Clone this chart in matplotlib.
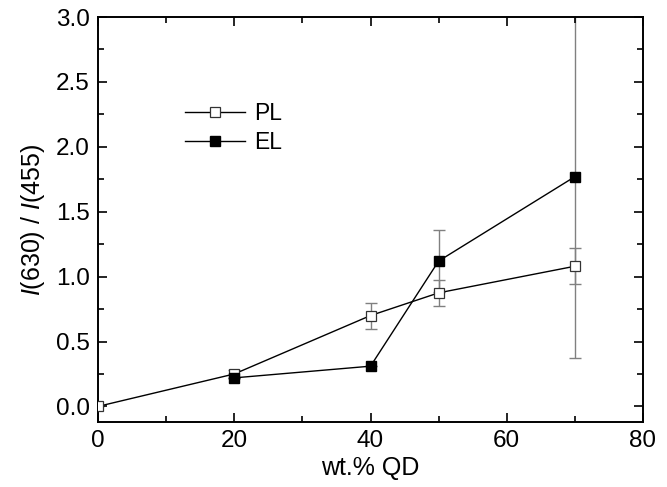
import matplotlib
matplotlib.use("Agg")
import matplotlib.pyplot as plt
from matplotlib.ticker import MultipleLocator

plt.rcParams["font.family"] = ["Liberation Sans", "DejaVu Sans"]
plt.rcParams["mathtext.fontset"] = "custom"
plt.rcParams["mathtext.rm"] = "Liberation Sans"
plt.rcParams["mathtext.it"] = "Liberation Sans:italic"

# PL: photoluminescence ratio
pl_x = [0, 20, 40, 50, 70]
pl_y = [0.0, 0.25, 0.70, 0.875, 1.08]
pl_err = [0.0, 0.03, 0.10, 0.10, 0.14]

# EL: electroluminescence ratio
el_x = [20, 40, 50, 70]
el_y = [0.22, 0.31, 1.12, 1.77]
el_err = [0.0, 0.0, 0.24, 1.40]

fig = plt.figure(figsize=(6.67, 4.87), dpi=100)
ax = fig.add_axes([0.147, 0.1335, 0.817, 0.8315])

ax.errorbar(pl_x, pl_y, yerr=pl_err, fmt="none", ecolor="gray",
            elinewidth=1, capsize=4, capthick=1, zorder=1)
ax.errorbar(el_x, el_y, yerr=el_err, fmt="none", ecolor="gray",
            elinewidth=1, capsize=4, capthick=1, zorder=1)
ax.plot(pl_x, pl_y, "-s", color="black", lw=1, ms=6.5,
        mfc="white", mec="#333333", mew=0.9, label="PL", zorder=3)
ax.plot(el_x, el_y, "-s", color="black", lw=1, ms=6.5,
        mfc="black", mec="black", label="EL", zorder=3)

ax.set_xlim(0, 80)
ax.set_ylim(-0.12, 3.0)
ax.xaxis.set_major_locator(MultipleLocator(20))
ax.xaxis.set_minor_locator(MultipleLocator(10))
ax.yaxis.set_major_locator(MultipleLocator(0.5))
ax.yaxis.set_minor_locator(MultipleLocator(0.25))
ax.yaxis.set_major_formatter(matplotlib.ticker.FormatStrFormatter("%.1f"))
ax.tick_params(which="both", direction="in", top=True, right=True, width=1.2)
ax.tick_params(which="major", length=6.5, labelsize=17.5, pad=6)
ax.tick_params(which="minor", length=4)
for s in ax.spines.values():
    s.set_linewidth(1.4)

ax.set_xlabel("wt.% QD", fontsize=18, labelpad=3)
ax.set_ylabel(r"$\mathit{I}$(630) / $\mathit{I}$(455)", fontsize=18, labelpad=6)

ax.legend(loc="upper left", bbox_to_anchor=(0.13, 0.83), frameon=False,
          fontsize=16.5, handlelength=2.6, handletextpad=0.4, labelspacing=0.25,
          borderpad=0.2)

fig.savefig("out.png", dpi=100)
